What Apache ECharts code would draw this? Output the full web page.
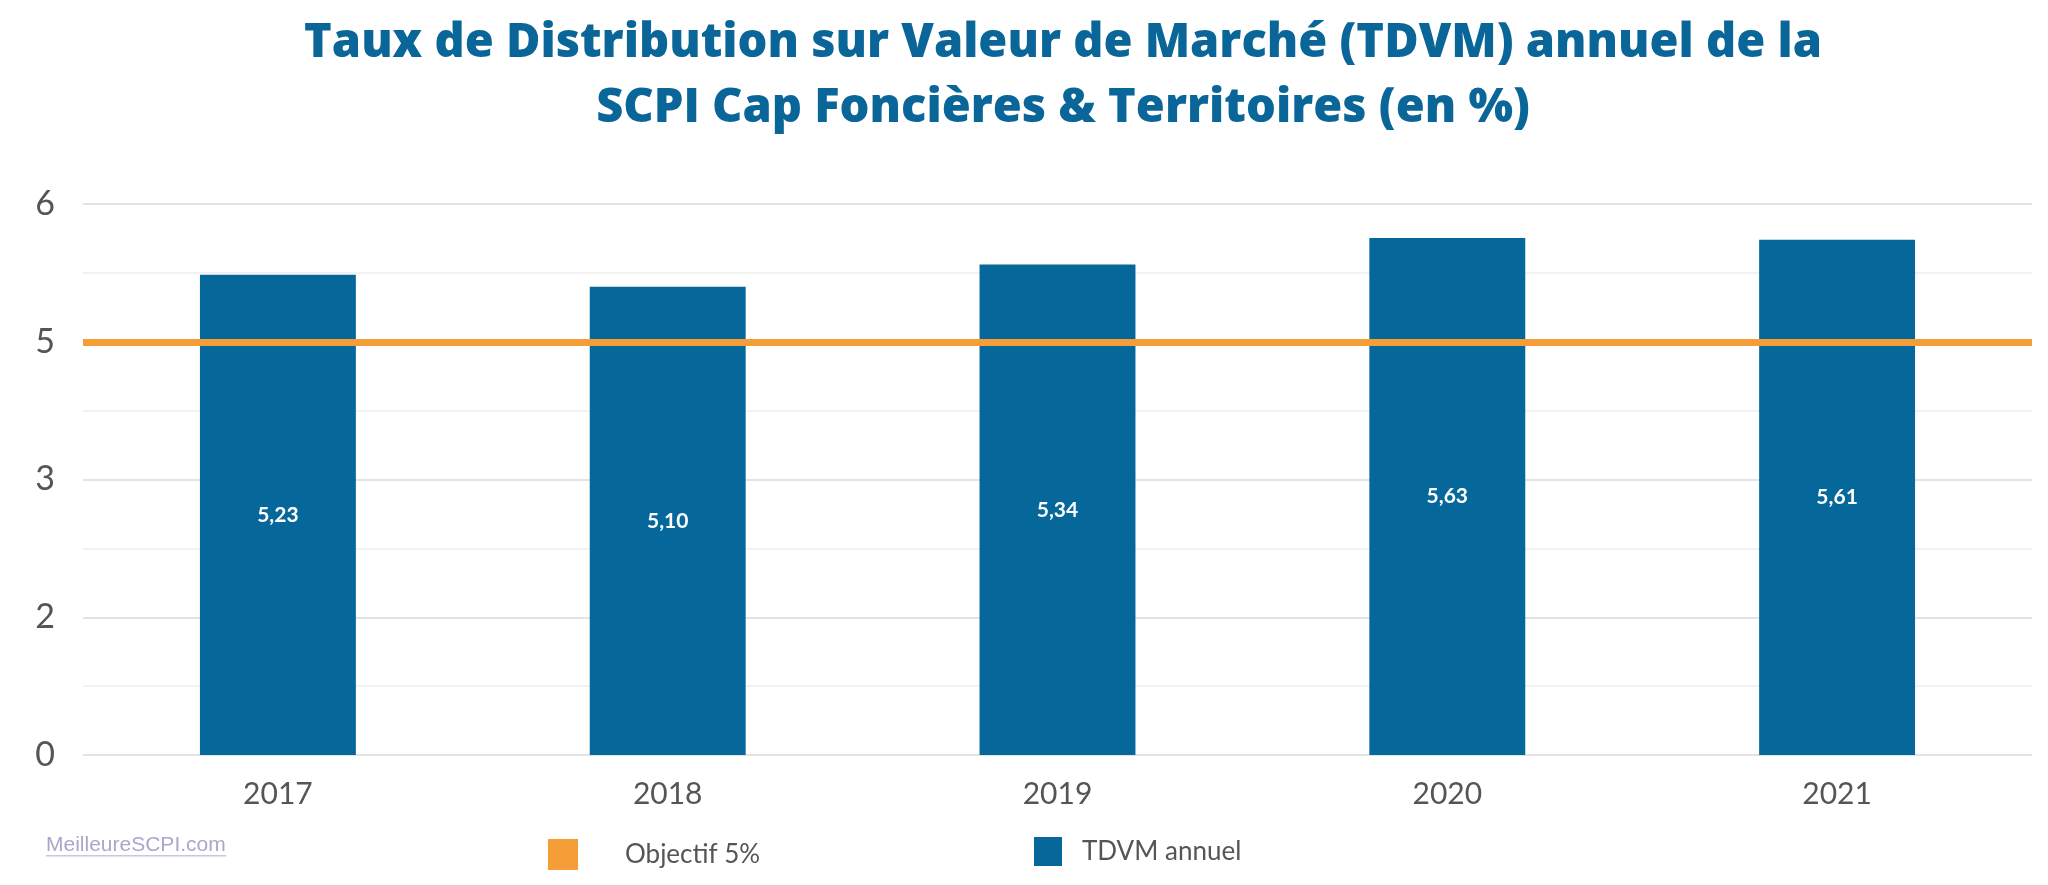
<!DOCTYPE html>
<html>
<head>
<meta charset="utf-8">
<script src="https://cdn.jsdelivr.net/npm/echarts@6/dist/echarts.min.js"></script>
<style>
html,body{margin:0;padding:0;background:#fff;}
#chart{width:2048px;height:885px;}
</style>
</head>
<body>
<div id="chart"></div>
<script>
const years = ['2017', '2018', '2019', '2020', '2021'];
const tdvm = [5.23, 5.10, 5.34, 5.63, 5.61];
const objectiveLevel = 4.5;
const yMin = 0, yMax = 6, yInterval = 1.5;

const chart = echarts.init(document.getElementById('chart'));
const fontMain = 'Lato, "Open Sans", sans-serif';
chart.setOption({
  animation: false,
  backgroundColor: '#ffffff',
  title: {
    text: 'Taux de Distribution sur Valeur de Marché (TDVM) annuel de la\nSCPI Cap Foncières & Territoires (en %)',
    left: 1058,
    textAlign: 'center',
    top: 6,
    textStyle: {
      fontFamily: '"Open Sans", Lato, sans-serif',
      fontWeight: 800,
      fontSize: 47,
      lineHeight: 65,
      color: '#0a6699'
    }
  },
  grid: { left: 83, right: 16, top: 204, bottom: 130 },
  legend: [
    {
      data: ['Objectif 5%'],
      left: 543, top: 834,
      itemWidth: 30, itemHeight: 31,
      icon: 'rect',
      textStyle: { fontFamily: fontMain, fontSize: 26, color: '#555555', padding: [0, 0, 0, 42] }
    },
    {
      data: ['TDVM annuel'],
      left: 1029, top: 832,
      itemWidth: 28, itemHeight: 29,
      icon: 'rect',
      textStyle: { fontFamily: fontMain, fontSize: 26, color: '#555555', padding: [0, 0, 0, 15] }
    }
  ],
  xAxis: {
    type: 'category',
    data: years,
    axisLine: { show: false },
    axisTick: { show: false },
    axisLabel: { fontFamily: fontMain, fontSize: 30, color: '#555555', margin: 24 }
  },
  yAxis: {
    type: 'value',
    min: yMin, max: yMax, interval: yInterval,
    axisLine: { show: false },
    axisTick: { show: false },
    axisLabel: {
      fontFamily: fontMain, fontSize: 34, color: '#555555', margin: 28,
      formatter: v => String(Math.round(v))
    },
    splitLine: { lineStyle: { color: '#e3e3e3', width: 2 } },
    minorTick: { show: false, splitNumber: 2 },
    minorSplitLine: { show: true, lineStyle: { color: '#f2f2f2', width: 2 } }
  },
  series: [
    {
      name: 'Objectif 5%',
      type: 'line',
      data: [],
      itemStyle: { color: '#f59d36' },
      lineStyle: { color: '#f59d36' },
      markLine: {
        silent: true,
        symbol: ['none', 'none'],
        label: { show: false },
        lineStyle: { color: '#f59d36', width: 7, type: 'solid' },
        data: [{ yAxis: objectiveLevel }]
      },
      z: 5
    },
    {
      name: 'TDVM annuel',
      type: 'bar',
      data: tdvm,
      barWidth: '40%',
      itemStyle: { color: '#06679a' },
      label: {
        show: true,
        position: 'inside',
        color: '#ffffff',
        fontFamily: fontMain,
        fontWeight: 'bold',
        fontSize: 21,
        formatter: p => p.value.toFixed(2).replace('.', ',')
      },
      z: 2
    }
  ],
  graphic: [
    {
      type: 'text',
      left: 46, top: 835,
      style: { text: 'MeilleureSCPI.com', fill: '#aaa6cc', font: '21px "Liberation Sans", Arial, sans-serif' }
    },
    {
      type: 'rect',
      left: 46, top: 855,
      shape: { width: 180, height: 1.5 },
      style: { fill: '#c9c6de' }
    }
  ]
});
</script>
</body>
</html>
